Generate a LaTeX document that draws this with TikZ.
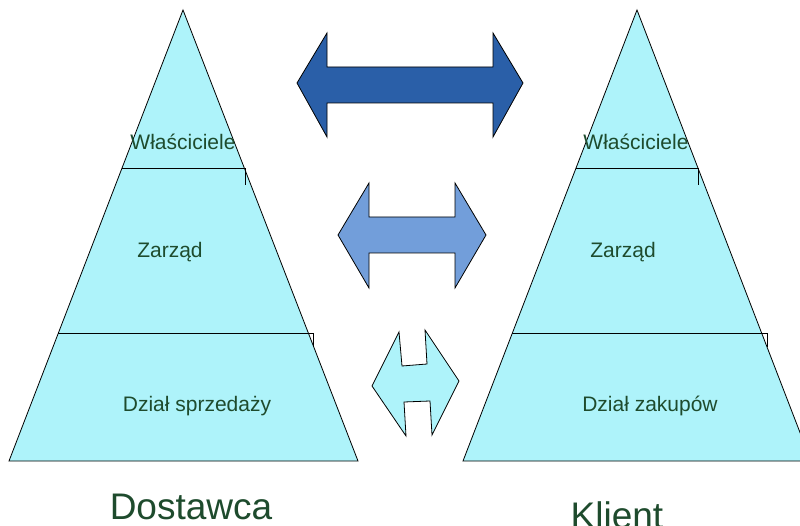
\documentclass[tikz,border=0pt]{standalone}
\usepackage{fontspec}
\setmainfont{Liberation Sans}
\definecolor{pyramidFill}{RGB}{174,243,250}
\definecolor{textGreen}{RGB}{30,75,45}
\definecolor{arrowDark}{RGB}{42,95,168}
\definecolor{arrowLight}{RGB}{114,158,218}
\tikzset{pyramid/.style={fill=pyramidFill, draw=black, thick}}
\tikzset{levelLine/.style={draw=black, thin}}
\tikzset{levelText/.style={anchor=base, text=textGreen, font=\fontsize{21}{25}\selectfont, inner sep=0pt}}
\tikzset{sideText/.style={anchor=base, text=textGreen, font=\fontsize{37}{44}\selectfont, inner sep=0pt}}
\tikzset{exchange/.style={draw=black, thick, line join=miter}}

\begin{document}
\begin{tikzpicture}[x=1pt,y=-1pt]
\useasboundingbox (0,0) rectangle (800,526);
\clip (0,0) rectangle (800,526);

% supplier pyramid
\filldraw[pyramid] (183,10) -- (358,461) -- (9,461) -- cycle;
\draw[levelLine] (122,168) -- (245,168) -- (245,185);
\draw[levelLine] (58,333) -- (313,333) -- (313,347);
\node[levelText] (ownersL) at (183,150) {Właściciele};
\node[levelText] (boardL) at (170,258) {Zarząd};
\node[levelText] (salesL) at (197,411) {Dział sprzedaży};
\node[sideText] (supplier) at (191,519) {Dostawca};

% client pyramid
\filldraw[pyramid] (637,10) -- (811,461) -- (463,461) -- cycle;
\draw[levelLine] (576,168) -- (698,168) -- (698,185);
\draw[levelLine] (512,333) -- (767,333) -- (767,347);
\node[levelText] (ownersR) at (636,150) {Właściciele};
\node[levelText] (boardR) at (623,258) {Zarząd};
\node[levelText] (purchaseR) at (650,411) {Dział zakupów};
\node[sideText] (client) at (617,528) {Klient};

% owners exchange
\filldraw[exchange, fill=arrowDark] (297,83) -- (327,33) -- (327,67) -- (493,67) -- (493,33)
  -- (523,83) -- (493,137) -- (493,103) -- (327,103) -- (327,137) -- cycle;

% board exchange
\filldraw[exchange, fill=arrowLight] (338,235) -- (369,183) -- (369,217) -- (455,217) -- (455,183)
  -- (486,235) -- (455,288) -- (455,253) -- (369,253) -- (369,288) -- cycle;

% departments exchange
\filldraw[exchange, fill=pyramidFill] (372,386) -- (399,332) -- (402,366) -- (427,364) -- (425,330)
  -- (459,381) -- (432,435) -- (430,401) -- (404,402) -- (406,436) -- cycle;
\end{tikzpicture}
\end{document}
